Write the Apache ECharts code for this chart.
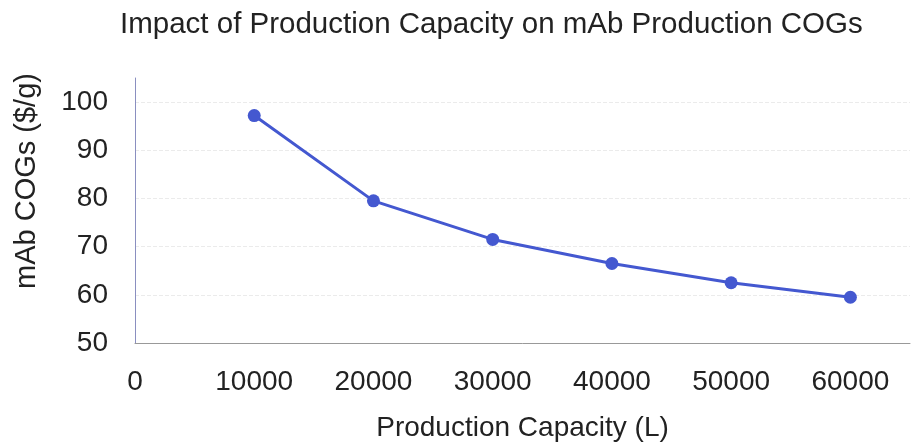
<!DOCTYPE html>
<html>
<head>
<meta charset="utf-8">
<script src="https://cdn.jsdelivr.net/npm/echarts@6/dist/echarts.min.js"></script>
<style>
  html, body { margin: 0; padding: 0; background: #fff; }
  #chart { width: 912px; height: 447px; }
</style>
</head>
<body>
<div id="chart"></div>
<script>
// production capacity (L) and COGs ($/g)
const capacity = [10000, 20000, 30000, 40000, 50000, 60000];
const cogs = [97.2, 79.5, 71.5, 66.5, 62.5, 59.5];

const chart = echarts.init(document.getElementById("chart"));
const font = "Liberation Sans, Arial, sans-serif";

const option = {
  backgroundColor: "#fff",
  animation: false,
  title: {
    text: "Impact of Production Capacity on mAb Production COGs",
    left: 115,
    top: 5,
    textStyle: { fontFamily: font, fontSize: 29.5, fontWeight: "normal", color: "#222" }
  },
  graphic: [
    {
      type: "text",
      x: 27,
      y: 181,
      rotation: Math.PI / 2,
      style: {
        text: "mAb COGs ($/g)",
        font: "29px " + font,
        fill: "#222",
        textAlign: "center",
        textVerticalAlign: "middle"
      }
    }
  ],
  grid: { left: 135, right: 2, top: 78, bottom: 98 },
  xAxis: {
    type: "value",
    min: 0,
    max: 65000,
    interval: 10000,
    name: "Production Capacity (L)",
    nameLocation: "middle",
    nameGap: 71,
    nameTextStyle: { fontFamily: font, fontSize: 28, color: "#222" },
    axisLine: { show: true, lineStyle: { color: "#999", width: 1 } },
    axisTick: { show: false },
    splitLine: { show: false },
    axisLabel: {
      fontFamily: font, fontSize: 28, color: "#222", margin: 25,
      showMaxLabel: false,
      formatter: (v) => String(v)
    }
  },
  yAxis: {
    type: "value",
    min: 50,
    max: 105,
    interval: 10,
    axisLine: { show: true, lineStyle: { color: "#8a8fc0", width: 1 } },
    axisTick: { show: false },
    splitLine: {
      show: true, showMaxLine: false,
      lineStyle: { color: "#ebebeb", type: "dashed", width: 1 }
    },
    axisLabel: { fontFamily: font, fontSize: 28, color: "#222", margin: 27, showMaxLabel: false }
  },
  series: [
    {
      type: "line",
      data: capacity.map((c, i) => [c, cogs[i]]),
      symbol: "circle",
      symbolSize: 13,
      lineStyle: { color: "#4458d0", width: 3 },
      itemStyle: { color: "#4458d0" }
    }
  ]
};

chart.setOption(option);
</script>
</body>
</html>
